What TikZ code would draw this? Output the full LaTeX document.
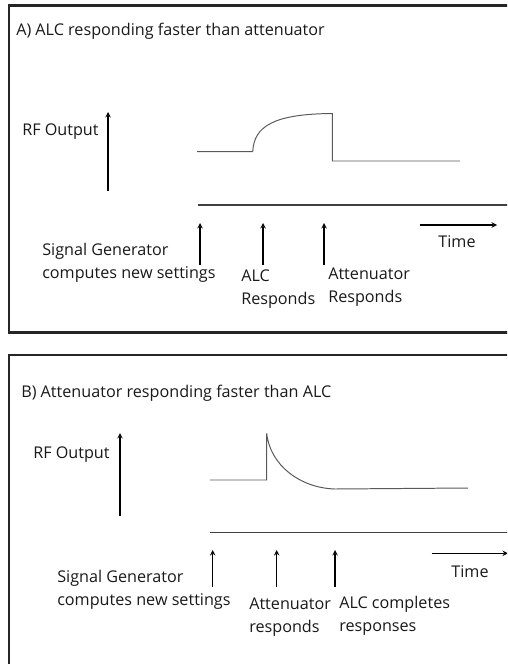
\documentclass[tikz,border=0pt]{standalone}
\usepackage{fontspec}
\setmainfont{Open Sans}
\tikzset{
    lbl/.style={inner sep=0pt,font=\fontsize{11.5}{16.4}\selectfont,text=black!90},
    evt/.style={->,>=stealth,line width=0.75pt}
}

\begin{document}
\begin{tikzpicture}[
    x=0.025cm, y=-0.025cm,
    frame/.style={line width=1.5pt,draw=black!85},
    sig/.style={line width=0.7pt,draw=black!65},
    axis/.style={line width=0.8pt,draw=black!75}
]
\path[use as bounding box, clip] (0,0) rectangle (507,664);

% Khung hai phan A va B
\draw[frame] (540,332.5) -- (9.3,332.5) -- (9.3,5.5) -- (540,5.5);
\draw[frame] (540,355) -- (9.3,355) -- (9.3,700);

% Phan A
\node[lbl,anchor=west] (titleA) at (16,31) {A) ALC responding faster than attenuator};
\node[lbl,anchor=west] (rfA) at (22,132) {RF Output};
\draw[evt] (108,191) -- (108,112);
\draw[sig] (197,151.7) -- (252.7,151.7) .. controls (254,126) and (274,114) .. (332.3,113.5) -- (332.3,161) -- (460,161);
\draw[axis] (198,205) -- (540,205);
\draw[evt] (200,265) -- (200,223);
\draw[evt] (263,265) -- (263,223);
\draw[evt] (324,265) -- (324,223);
\draw[evt] (420,225) -- (497,225);
\node[lbl] (timeA) at (457,242) {Time};
\node[lbl,anchor=west,align=left] (sgA) at (42,262.5) {Signal Generator\\computes new settings};
\node[lbl,anchor=west,align=left] (alcA) at (241,289.5) {ALC\\Responds};
\node[lbl,anchor=west,align=left] (attA) at (328,287) {Attenuator\\Responds};

% Phan B
\node[lbl,anchor=west] (titleB) at (21,393) {B) Attenuator responding faster than ALC};
\node[lbl,anchor=west] (rfB) at (33,455) {RF Output};
\draw[evt] (120,516) -- (120,433);
\draw[sig] (210,480) -- (266.7,480) -- (266.7,433.3) .. controls (270,465) and (300,488) .. (335,489) -- (468,488);
\draw[axis] (210,532.7) -- (540,532.7);
\draw[evt] (212.7,587) -- (212.7,550);
\draw[evt] (276.7,587) -- (276.7,550);
\draw[evt] (335,587) -- (335,550);
\draw[evt] (431.7,553.3) -- (508,553.3);
\node[lbl] (timeB) at (470,572) {Time};
\node[lbl,anchor=west,align=left] (sgB) at (57,590) {Signal Generator\\computes new settings};
\node[lbl,anchor=west,align=left] (attB) at (249,617) {Attenuator\\responds};
\node[lbl,anchor=west,align=left] (alcB) at (339,616) {ALC completes\\responses};
\end{tikzpicture}
\end{document}
